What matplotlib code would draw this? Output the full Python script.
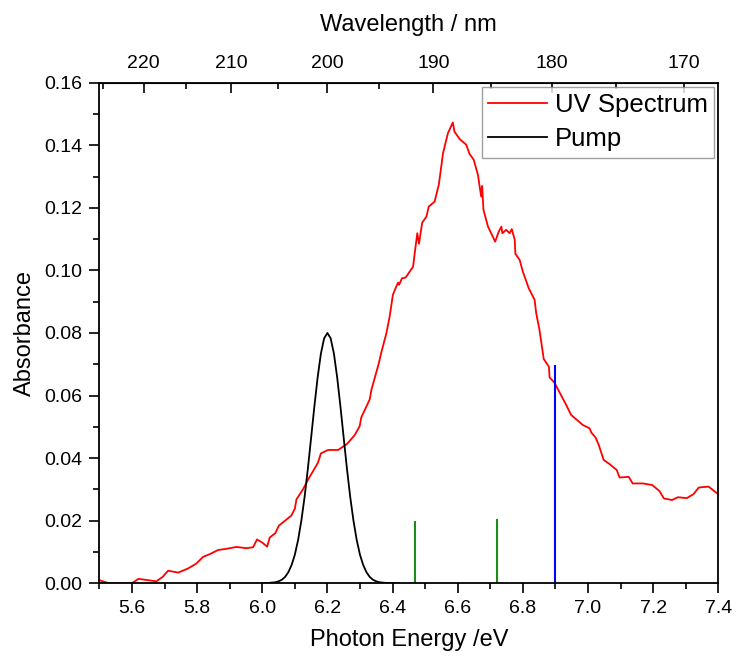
import numpy as np
from matplotlib import pyplot as plt
from matplotlib.ticker import MultipleLocator, FormatStrFormatter

plt.rcParams['font.family'] = ['Liberation Sans', 'DejaVu Sans']

# UV spectrum (photon energy / eV, absorbance)
uv_energy = [5.50, 5.51, 5.53, 5.60, 5.62, 5.675, 5.694, 5.711, 5.742, 5.772,
             5.798, 5.818, 5.839, 5.864, 5.890, 5.921, 5.951, 5.972, 5.984, 6.000,
             6.015, 6.023, 6.040, 6.051, 6.089, 6.100, 6.105, 6.125, 6.141, 6.171,
             6.180, 6.202, 6.233, 6.260, 6.284, 6.299, 6.304, 6.330, 6.335, 6.357,
             6.366, 6.381, 6.391, 6.401, 6.412, 6.417, 6.420, 6.429, 6.440, 6.463,
             6.468, 6.476, 6.481, 6.491, 6.504, 6.511, 6.529, 6.542, 6.555, 6.570,
             6.585, 6.590, 6.606, 6.626, 6.636, 6.649, 6.662, 6.672, 6.675, 6.679,
             6.693, 6.715, 6.726, 6.734, 6.737, 6.749, 6.759, 6.766, 6.775, 6.777,
             6.790, 6.800, 6.818, 6.836, 6.841, 6.851, 6.864, 6.880, 6.882, 6.897,
             6.933, 6.948, 6.984, 7.005, 7.010, 7.023, 7.033, 7.048, 7.066, 7.088,
             7.097, 7.125, 7.137, 7.168, 7.197, 7.219, 7.233, 7.258, 7.276, 7.303,
             7.324, 7.340, 7.370, 7.400]
uv_abs = [0.0010, 0.0006, 0.0000, 0.0000, 0.0014, 0.0006, 0.0020, 0.0040, 0.0034, 0.0047,
          0.0063, 0.0084, 0.0093, 0.0106, 0.0110, 0.0116, 0.0112, 0.0115, 0.0140, 0.0130,
          0.0117, 0.0146, 0.0160, 0.0184, 0.0216, 0.0238, 0.0268, 0.0300, 0.0332, 0.0385,
          0.0415, 0.0426, 0.0426, 0.0445, 0.0474, 0.0502, 0.0530, 0.0588, 0.0618, 0.0700,
          0.0740, 0.0799, 0.0852, 0.0922, 0.0950, 0.0961, 0.0954, 0.0975, 0.0977, 0.1012,
          0.1055, 0.1119, 0.1085, 0.1153, 0.1172, 0.1204, 0.1220, 0.1274, 0.1375, 0.1439,
          0.1473, 0.1444, 0.1420, 0.1402, 0.1373, 0.1354, 0.1306, 0.1236, 0.1270, 0.1194,
          0.1140, 0.1092, 0.1124, 0.1140, 0.1119, 0.1130, 0.1119, 0.1132, 0.1098, 0.1053,
          0.1034, 0.0996, 0.0943, 0.0906, 0.0863, 0.0810, 0.0717, 0.0692, 0.0658, 0.0641,
          0.0570, 0.0538, 0.0506, 0.0495, 0.0482, 0.0466, 0.0442, 0.0394, 0.0381, 0.0362,
          0.0338, 0.0340, 0.0319, 0.0319, 0.0314, 0.0295, 0.0271, 0.0266, 0.0275, 0.0272,
          0.0285, 0.0306, 0.0309, 0.0284]

# pump pulse profile, centred near 6.20 eV
pump_energy = [6.00, 6.02, 6.04, 6.05, 6.06, 6.07, 6.08, 6.09, 6.10, 6.11,
               6.12, 6.13, 6.14, 6.15, 6.16, 6.17, 6.18, 6.19, 6.20, 6.21,
               6.22, 6.23, 6.24, 6.25, 6.26, 6.27, 6.28, 6.29, 6.30, 6.31,
               6.32, 6.33, 6.34, 6.35, 6.36, 6.38, 6.40, 6.42]
pump_abs = [0.0000, 0.0001, 0.0003, 0.0006, 0.0011, 0.0020, 0.0035, 0.0058, 0.0091, 0.0138,
            0.0200, 0.0276, 0.0366, 0.0465, 0.0565, 0.0658, 0.0734, 0.0783, 0.0800, 0.0783,
            0.0734, 0.0658, 0.0565, 0.0465, 0.0366, 0.0276, 0.0200, 0.0138, 0.0091, 0.0058,
            0.0035, 0.0020, 0.0011, 0.0006, 0.0003, 0.0001, 0.0000, 0.0000]

# stick transitions
green_pos = [6.47, 6.72]
green_height = [0.0198, 0.0204]
blue_pos = [6.90]
blue_height = [0.0698]

wl_ticks = [220, 210, 200, 190, 180, 170]
HC = 1239.84

fig = plt.figure(figsize=(7.36, 6.62), dpi=100)
ax = fig.add_axes([0.135, 0.119, 0.841, 0.756])

ax.plot(uv_energy, uv_abs, color='red', lw=1.3, label='UV Spectrum')
ax.plot(pump_energy, pump_abs, color='black', lw=1.3, label='Pump')
ax.vlines(green_pos, 0, green_height, color='#1a8c1a', lw=1.5)
ax.vlines(blue_pos, 0, blue_height, color='blue', lw=1.5)

ax.set_xlim(5.5, 7.4)
ax.set_ylim(0, 0.16)
ax.xaxis.set_major_locator(MultipleLocator(0.2))
ax.xaxis.set_minor_locator(MultipleLocator(0.1))
ax.yaxis.set_major_locator(MultipleLocator(0.02))
ax.yaxis.set_minor_locator(MultipleLocator(0.01))
ax.xaxis.set_major_formatter(FormatStrFormatter('%.1f'))
ax.yaxis.set_major_formatter(FormatStrFormatter('%.2f'))
ax.tick_params(which='both', direction='out', labelsize=14, width=1.2,
               top=False, right=False, pad=5)
ax.tick_params(which='major', length=7)
ax.tick_params(which='minor', length=4)
for s in ax.spines.values():
    s.set_linewidth(1.3)

ax.set_xlabel('Photon Energy /eV', fontsize=17, labelpad=9)
ax.set_ylabel('Absorbance', fontsize=17, labelpad=6)

sec = ax.secondary_xaxis('top', functions=(lambda e: HC / np.asarray(e, float),
                                           lambda w: HC / np.asarray(w, float)))
sec.set_xticks(wl_ticks)
sec.xaxis.set_minor_locator(MultipleLocator(5))
sec.tick_params(which='both', direction='in', labelsize=14, width=1.2, pad=8)
sec.tick_params(which='major', length=7)
sec.tick_params(which='minor', length=4)
sec.set_xlabel('Wavelength / nm', fontsize=17, labelpad=17)

leg = ax.legend(loc='upper right', fontsize=18.5, frameon=True, fancybox=False,
                edgecolor='#888888', borderaxespad=0.15, handlelength=2.3,
                borderpad=0.25, labelspacing=0.4, handletextpad=0.3)
leg.get_frame().set_linewidth(1.0)

fig.savefig('out.png', dpi=100)
